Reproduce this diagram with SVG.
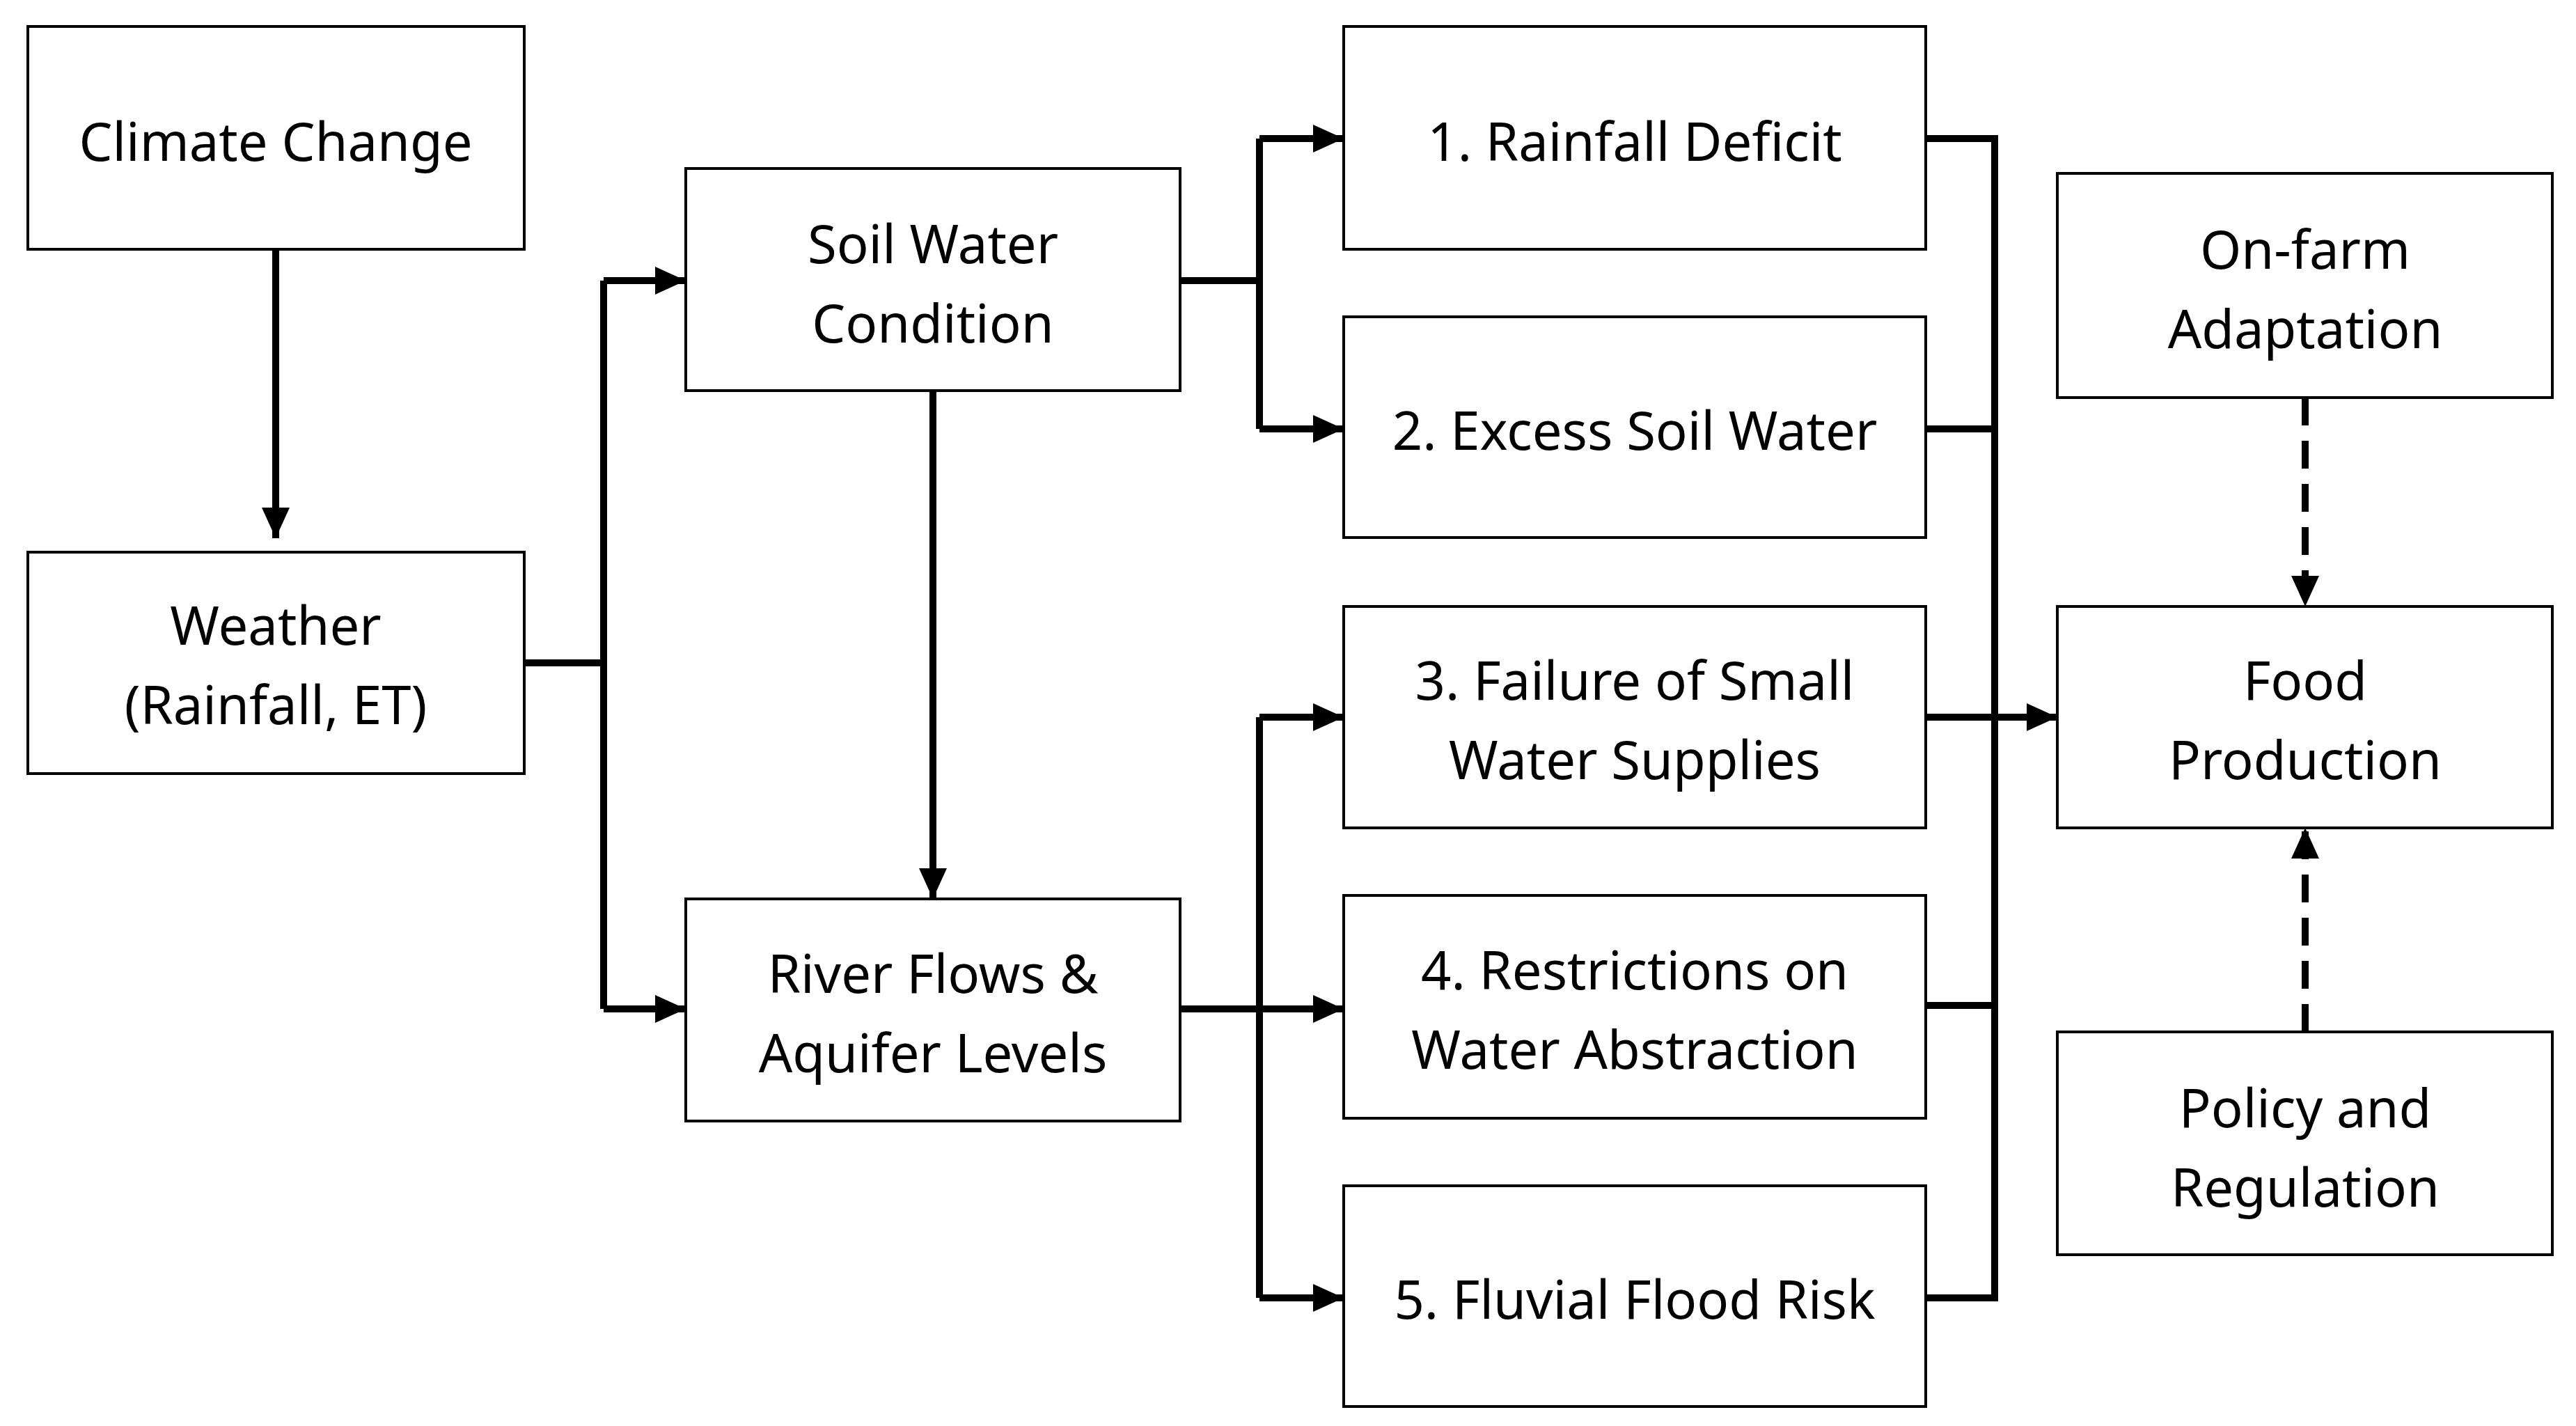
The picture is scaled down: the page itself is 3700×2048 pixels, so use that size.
<svg xmlns="http://www.w3.org/2000/svg" width="3700" height="2048" viewBox="0 0 3700 2048">
<style>
rect{fill:#fff;stroke:#000;stroke-width:4}
text{font-family:"Noto Sans","Liberation Sans",sans-serif;font-size:76px;text-anchor:middle;dominant-baseline:central;fill:#000}
.c path{fill:none;stroke:#000;stroke-width:10}
.d{stroke-dasharray:40 22}
</style>
<defs><marker id="a" markerUnits="userSpaceOnUse" markerWidth="44" markerHeight="40" refX="44" refY="20" orient="auto"><path d="M0,0L44,20L0,40Z" fill="#000"/></marker></defs>
<rect width="3700" height="2048" fill="#fff" style="stroke:none"/>
<g class="c">
<path d="M396,358V773" marker-end="url(#a)"/>
<path d="M753,952H867"/><path d="M867,403V1449"/>
<path d="M867,403H985" marker-end="url(#a)"/><path d="M867,1449H985" marker-end="url(#a)"/>
<path d="M1340,561V1291" marker-end="url(#a)"/>
<path d="M1695,403H1809"/><path d="M1809,199V616"/>
<path d="M1809,199H1930" marker-end="url(#a)"/><path d="M1809,616H1930" marker-end="url(#a)"/>
<path d="M1695,1449H1809"/><path d="M1809,1030V1864"/>
<path d="M1809,1030H1930" marker-end="url(#a)"/><path d="M1809,1449H1930" marker-end="url(#a)"/><path d="M1809,1864H1930" marker-end="url(#a)"/>
<path d="M2766,199H2865V1864H2766M2766,616H2865M2766,1444H2865"/>
<path d="M2766,1030H2955" marker-end="url(#a)"/>
<path class="d" d="M3311,571V871" marker-end="url(#a)"/>
<path class="d" d="M3311,1482V1189" marker-end="url(#a)"/>
</g>
<g id="climate"><rect x="40" y="38" width="713" height="320"/><text x="396" y="201">Climate Change</text></g>
<g id="weather"><rect x="40" y="793" width="713" height="318"/><text x="396" y="896">Weather</text><text x="396" y="1010">(Rainfall, ET)</text></g>
<g id="soil"><rect x="985" y="242" width="710" height="319"/><text x="1340" y="348">Soil Water</text><text x="1340" y="462">Condition</text></g>
<g id="river"><rect x="985" y="1291" width="710" height="319"/><text x="1340" y="1396">River Flows &amp;</text><text x="1340" y="1510">Aquifer Levels</text></g>
<g id="n1"><rect x="1930" y="38" width="836" height="320"/><text x="2348" y="201">1. Rainfall Deficit</text></g>
<g id="n2"><rect x="1930" y="455" width="836" height="317"/><text x="2348" y="616">2. Excess Soil Water</text></g>
<g id="n3"><rect x="1930" y="871" width="836" height="318"/><text x="2348" y="975">3. Failure of Small</text><text x="2348" y="1089">Water Supplies</text></g>
<g id="n4"><rect x="1930" y="1286" width="836" height="320"/><text x="2348" y="1391">4. Restrictions on</text><text x="2348" y="1505">Water Abstraction</text></g>
<g id="n5"><rect x="1930" y="1703" width="836" height="317"/><text x="2348" y="1864">5. Fluvial Flood Risk</text></g>
<g id="onfarm"><rect x="2955" y="249" width="711" height="322"/><text x="3311" y="356">On-farm</text><text x="3311" y="470">Adaptation</text></g>
<g id="food"><rect x="2955" y="871" width="711" height="318"/><text x="3311" y="975">Food</text><text x="3311" y="1089">Production</text></g>
<g id="policy"><rect x="2955" y="1482" width="711" height="320"/><text x="3311" y="1589">Policy and</text><text x="3311" y="1703">Regulation</text></g>
</svg>
